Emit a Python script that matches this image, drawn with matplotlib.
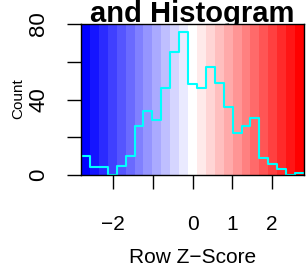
import numpy as np
import matplotlib
matplotlib.use("Agg")
import matplotlib.pyplot as plt
from matplotlib.colors import ListedColormap

plt.rcParams['font.family'] = ['Liberation Sans', 'DejaVu Sans']

# histogram counts per colour bin (25 bins, left to right)
counts = [10, 4, 4, 0, 5, 10, 26, 34, 29, 46, 65, 76, 48, 46, 57, 49, 36, 22, 26, 30, 9, 6, 3, 0, 1]
z_lim = 2.805
x_ticks = [-2, -1, 0, 1, 2]
x_labels = ['\u22122', '', '0', '1', '2']
y_ticks = [0, 20, 40, 60, 80]
y_labels = ['0', '', '40', '', '80']

n = len(counts)
breaks = np.linspace(-z_lim, z_lim, n + 1)

# blue -> white -> red ramp
half = n // 2
cols = []
for i in range(n):
    if i <= half:
        f = i / half
        cols.append((f, f, 1.0))
    else:
        f = (i - half) / half
        cols.append((1.0, 1.0 - f, 1.0 - f))
cmap = ListedColormap(cols)

fig = plt.figure(figsize=(3.07, 2.69), dpi=100)
ax = fig.add_axes([81 / 307, 1 - 175 / 269, (304 - 81) / 307, (175 - 24) / 269])

ax.pcolormesh(breaks, [0, 80], np.arange(n).reshape(1, n), cmap=cmap, shading='flat')
ax.step(breaks, counts + [counts[-1]], where='post', color='cyan', lw=1.5)

ax.set_xlim(-z_lim, z_lim)
ax.set_ylim(0, 80)
ax.set_xticks(x_ticks)
ax.set_xticklabels(x_labels, fontsize=15)
ax.set_yticks(y_ticks)
ax.set_yticklabels(y_labels, fontsize=16, rotation=90, va='center')
ax.tick_params(axis='both', length=10, width=1, direction='out')
ax.tick_params(axis='x', pad=19)
ax.tick_params(axis='y', pad=13)
for s in ax.spines.values():
    s.set_linewidth(1)

ax.set_xlabel('Row Z\u2212Score', fontsize=15, labelpad=10)
fig.text(18 / 307, 1 - 99 / 269, 'Count', fontsize=11, rotation=90, ha='center', va='center')
fig.text(192 / 307, 1 - 22.5 / 269, 'and Histogram', fontsize=21, fontweight='bold',
         ha='center', va='baseline', zorder=-1)

fig.savefig('out.png', dpi=100)
